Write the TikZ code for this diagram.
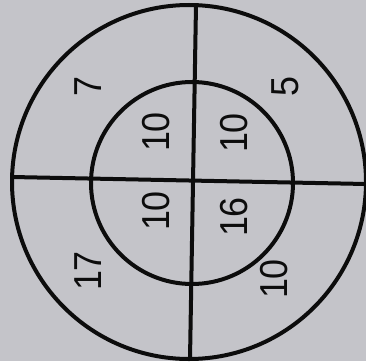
\documentclass[tikz,border=0pt]{standalone}
\usepackage{fontspec}
\setmainfont{Liberation Sans}
\usepackage{xcolor}
\usepackage{graphicx}
\usepackage{tikz}
\usetikzlibrary{calc}
\definecolor{mygrey}{RGB}{196,196,201}
\definecolor{myink}{RGB}{12,12,12}
\newcommand{\narrow}[1]{\scalebox{0.92}[1]{#1}}
\tikzset{
  ring/.style={line width=4pt, color=myink},
  cut/.style={line width=4pt, color=myink},
  num/.style={font=\fontsize{39}{42}\selectfont, text=myink, rotate=90, inner sep=0pt}
}

\begin{document}
\begin{tikzpicture}[x=1pt, y=-1pt]
  \fill[mygrey] (0,0) rectangle (366,361);
  \useasboundingbox (0,0) rectangle (366,361);

  % rings
  \draw[ring] (189,182) circle (177);
  \draw[ring] (192,183) circle (101);

  % cross
  \coordinate (top) at (196,5);
  \coordinate (bot) at (190,359);
  \coordinate (lft) at (12,177);
  \coordinate (rgt) at (366,184);
  \draw[cut] (top) -- (bot);
  \draw[cut] (lft) -- (rgt);

  % outer ring
  \node[num] (outTL) at (88,87) {\narrow{7}};
  \node[num] (outTR) at (285,87) {\narrow{5}};
  \node[num] (outBL) at (88,271) {\narrow{17}};
  \node[num] (outBR) at (274,279) {\narrow{10}};

  % inner disc
  \node[num] (inTL) at (156,132) {\narrow{10}};
  \node[num] (inTR) at (234,133) {\narrow{10}};
  \node[num] (inBL) at (156,211) {\narrow{10}};
  \node[num] (inBR) at (234,217) {\narrow{16}};
\end{tikzpicture}
\end{document}
